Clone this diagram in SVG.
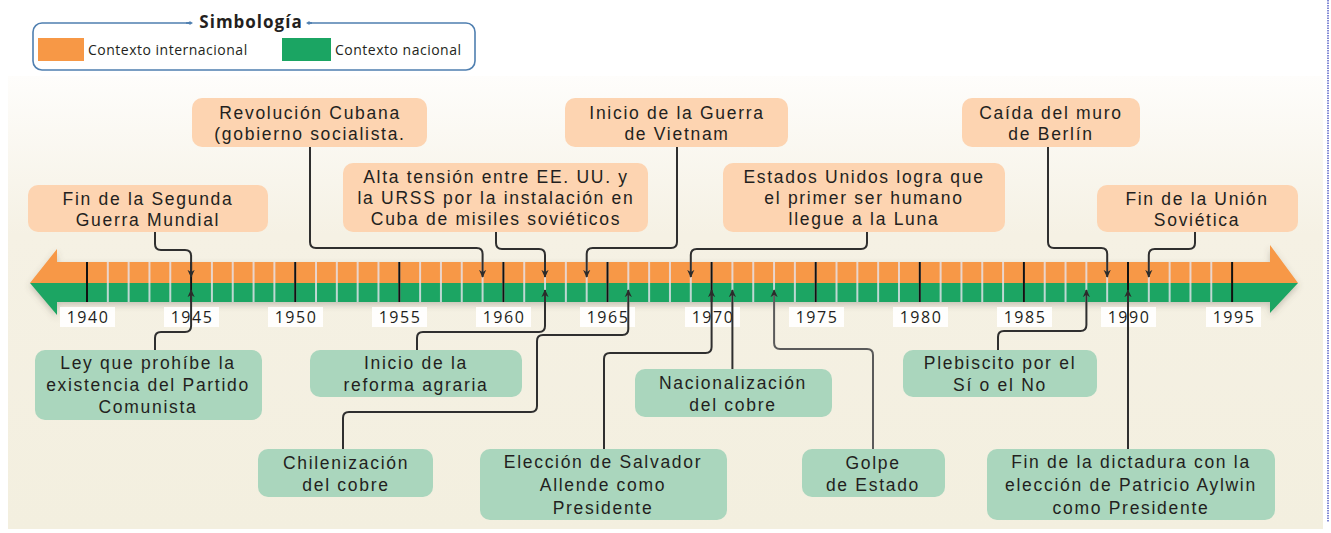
<svg xmlns="http://www.w3.org/2000/svg" width="1331" height="533" viewBox="0 0 1331 533">
<defs>
<linearGradient id="bg" x1="0" y1="0" x2="0" y2="1">
<stop offset="0" stop-color="#fefdfb"/>
<stop offset="0.35" stop-color="#f5f1e4"/>
<stop offset="1" stop-color="#f3efdf"/>
</linearGradient>
<filter id="sh" x="-5%" y="-40%" width="110%" height="180%">
<feDropShadow dx="0" dy="3" stdDeviation="3" flood-color="#5a5444" flood-opacity="0.3"/>
</filter>
<pattern id="sep" x="86" y="0" width="20.82" height="533" patternUnits="userSpaceOnUse">
<rect x="0.2" y="0" width="1.6" height="533" fill="#e6e4ec"/>
</pattern>
<marker id="ah" viewBox="0 0 10 10" refX="9" refY="5" markerWidth="8" markerHeight="8" markerUnits="userSpaceOnUse" orient="auto">
<path d="M0,0.5 L10,5 L0,9.5 L3,5 z" fill="#2b2b2b"/>
</marker>
<marker id="dm" viewBox="0 0 10 10" refX="5" refY="5" markerWidth="6" markerHeight="6" markerUnits="userSpaceOnUse">
<path d="M0,5 L5,2 L10,5 L5,8 z" fill="#4f7fb0"/>
</marker>
</defs>
<style>
.t{font-family:"Liberation Sans",Arial,sans-serif;font-size:17.5px;fill:#231f20;text-anchor:middle;letter-spacing:1.7px}
.ob{fill:#fdd4b1}
.gb{fill:#aad6bd}
.cn{fill:none;stroke:#2f2f2f;stroke-width:2;marker-end:url(#ah)}
.yb{fill:#ffffff;fill-opacity:0.92}
.yt{font-family:"Open Sans","Liberation Sans",sans-serif;font-size:16px;fill:#231f20;text-anchor:middle;letter-spacing:1.5px}
.mj{stroke:#111;stroke-width:2}
.lg{font-family:"Open Sans","Liberation Sans",sans-serif;font-size:14px;fill:#231f20;letter-spacing:0.5px}
</style>

<rect x="0" y="0" width="1331" height="533" fill="#ffffff"/>
<rect x="8" y="76" width="1315" height="453" fill="url(#bg)"/>
<line x1="1328" y1="0" x2="1328" y2="522" stroke="#5a64c8" stroke-width="1.5" stroke-dasharray="1.5,1"/>

<g id="legend">
<rect x="33" y="23" width="442" height="47" rx="9" fill="#ffffff" stroke="#4f7fb0" stroke-width="1.6"/>
<rect x="189" y="18" width="122" height="10" fill="#ffffff"/>
<line x1="186" y1="23" x2="190" y2="23" stroke="#4f7fb0" stroke-width="1.6" marker-end="url(#dm)"/>
<line x1="312" y1="23" x2="309" y2="23" stroke="#4f7fb0" stroke-width="1.6" marker-end="url(#dm)"/>
<text x="251" y="28" text-anchor="middle" font-family="'Open Sans','Liberation Sans',sans-serif" font-size="17" font-weight="bold" fill="#231f20" letter-spacing="1">Simbología</text>
<rect x="38" y="38" width="46" height="23" fill="#f79846"/>
<text class="lg" x="88" y="55">Contexto internacional</text>
<rect x="282" y="38" width="49" height="23" fill="#1ba563"/>
<text class="lg" x="335" y="55">Contexto nacional</text>
</g>

<g id="timeline">
<g filter="url(#sh)">
<path d="M30,283 L57,249 L57,262 L1270,262 L1270,245 L1298,283 Z" fill="#f79846"/>
<path d="M30,283 L1298,283 L1270,313 L1270,302 L57,302 L57,315 Z" fill="#1ba563"/>
</g>
<rect x="97" y="262" width="1125" height="40" fill="url(#sep)"/>
<g class="mj">
<line x1="87" y1="262" x2="87" y2="302"/>
<line x1="191.1" y1="262" x2="191.1" y2="302"/>
<line x1="295.2" y1="262" x2="295.2" y2="302"/>
<line x1="399.3" y1="262" x2="399.3" y2="302"/>
<line x1="503.4" y1="262" x2="503.4" y2="302"/>
<line x1="607.5" y1="262" x2="607.5" y2="302"/>
<line x1="711.6" y1="262" x2="711.6" y2="302"/>
<line x1="815.7" y1="262" x2="815.7" y2="302"/>
<line x1="919.8" y1="262" x2="919.8" y2="302"/>
<line x1="1023.9" y1="262" x2="1023.9" y2="302"/>
<line x1="1128" y1="262" x2="1128" y2="302"/>
<line x1="1232.1" y1="262" x2="1232.1" y2="302"/>
</g>
<g id="years">
<rect class="yb" x="60" y="307" width="55" height="20"/><text class="yt" x="88" y="323">1940</text>
<rect class="yb" x="164" y="307" width="55" height="20"/><text class="yt" x="192" y="323">1945</text>
<rect class="yb" x="268" y="307" width="55" height="20"/><text class="yt" x="296" y="323">1950</text>
<rect class="yb" x="372" y="307" width="55" height="20"/><text class="yt" x="400" y="323">1955</text>
<rect class="yb" x="476" y="307" width="55" height="20"/><text class="yt" x="504" y="323">1960</text>
<rect class="yb" x="580" y="307" width="55" height="20"/><text class="yt" x="608" y="323">1965</text>
<rect class="yb" x="685" y="307" width="55" height="20"/><text class="yt" x="713" y="323">1970</text>
<rect class="yb" x="789" y="307" width="55" height="20"/><text class="yt" x="817" y="323">1975</text>
<rect class="yb" x="893" y="307" width="55" height="20"/><text class="yt" x="921" y="323">1980</text>
<rect class="yb" x="997" y="307" width="55" height="20"/><text class="yt" x="1025" y="323">1985</text>
<rect class="yb" x="1101" y="307" width="55" height="20"/><text class="yt" x="1129" y="323">1990</text>
<rect class="yb" x="1206" y="307" width="55" height="20"/><text class="yt" x="1234" y="323">1995</text>
</g>
</g>

<g id="connectors">
<path class="cn" d="M155,232 V244 Q155,250 161,250 H185 Q191.1,250 191.1,256 V277"/>
<path class="cn" d="M310,147 V242 Q310,248 316,248 H476.6 Q482.6,248 482.6,254 V277"/>
<path class="cn" d="M496,232 V243 Q496,249 502,249 H539 Q545,249 545,255 V277"/>
<path class="cn" d="M677,147 V242 Q677,248 671,248 H592.7 Q586.7,248 586.7,254 V277"/>
<path class="cn" d="M867,232 V243 Q867,249 861,249 H696.8 Q690.8,249 690.8,255 V277"/>
<path class="cn" d="M1048,147 V242 Q1048,248 1054,248 H1101.2 Q1107.2,248 1107.2,254 V277"/>
<path class="cn" d="M1195,232 V243 Q1195,249 1189,249 H1154.8 Q1148.8,249 1148.8,255 V277"/>
<path class="cn" d="M155,350 V338 Q155,332 161,332 H185 Q191.1,332 191.1,326 V290"/>
<path class="cn" d="M417,350 V338 Q417,332 423,332 H539 Q545,332 545,326 V290"/>
<path class="cn" d="M343,449 V418 Q343,412 349,412 H531 Q537,412 537,406 V341 Q537,335 543,335 H622.3 Q628.3,335 628.3,329 V290"/>
<path class="cn" d="M604,449 V359 Q604,353 610,353 H705.6 Q711.6,353 711.6,347 V290"/>
<path class="cn" d="M732.4,369 V290"/>
<path class="cn" d="M873,449 V355 Q873,349 867,349 H780.1 Q774.1,349 774.1,343 V290" style="stroke:#5a5a5a"/>
<path class="cn" d="M998,350 V337 Q998,331 1004,331 H1080.4 Q1086.4,331 1086.4,325 V290"/>
<path class="cn" d="M1128,449 V290"/>
</g>

<g id="n1945int"><rect class="ob" x="28" y="185" width="240" height="47" rx="10"/>
<text class="t" x="148" y="205">Fin de la Segunda</text><text class="t" x="148" y="226">Guerra Mundial</text></g>
<g id="n1959"><rect class="ob" x="192" y="98" width="235" height="49" rx="10"/>
<text class="t" x="310" y="119">Revolución Cubana</text><text class="t" x="310" y="140">(gobierno socialista.</text></g>
<g id="n1962int"><rect class="ob" x="343" y="163" width="305" height="69" rx="10"/>
<text class="t" x="496" y="183">Alta tensión entre EE. UU. y</text><text class="t" x="496" y="204">la URSS por la instalación en</text><text class="t" x="496" y="225">Cuba de misiles soviéticos</text></g>
<g id="n1964"><rect class="ob" x="565" y="98" width="223" height="49" rx="10"/>
<text class="t" x="677" y="119">Inicio de la Guerra</text><text class="t" x="677" y="140">de Vietnam</text></g>
<g id="n1969"><rect class="ob" x="723" y="163" width="282" height="69" rx="10"/>
<text class="t" x="864" y="183">Estados Unidos logra que</text><text class="t" x="864" y="204">el primer ser humano</text><text class="t" x="864" y="225">llegue a la Luna</text></g>
<g id="n1989"><rect class="ob" x="962" y="98" width="178" height="49" rx="10"/>
<text class="t" x="1051" y="119">Caída del muro</text><text class="t" x="1051" y="140">de Berlín</text></g>
<g id="n1991"><rect class="ob" x="1097" y="185" width="201" height="47" rx="10"/>
<text class="t" x="1197" y="205">Fin de la Unión</text><text class="t" x="1197" y="226">Soviética</text></g>

<g id="n1945nac"><rect class="gb" x="35" y="350" width="227" height="70" rx="10"/>
<text class="t" x="148" y="369">Ley que prohíbe la</text><text class="t" x="148" y="391">existencia del Partido</text><text class="t" x="148" y="413">Comunista</text></g>
<g id="n1962nac"><rect class="gb" x="310" y="350" width="212" height="47" rx="10"/>
<text class="t" x="416" y="369">Inicio de la</text><text class="t" x="416" y="391">reforma agraria</text></g>
<g id="n1966"><rect class="gb" x="258" y="449" width="175" height="48" rx="10"/>
<text class="t" x="346" y="469">Chilenización</text><text class="t" x="346" y="491">del cobre</text></g>
<g id="n1971"><rect class="gb" x="635" y="369" width="197" height="48" rx="10"/>
<text class="t" x="733" y="389">Nacionalización</text><text class="t" x="733" y="411">del cobre</text></g>
<g id="n1970"><rect class="gb" x="480" y="449" width="247" height="71" rx="10"/>
<text class="t" x="603" y="468">Elección de Salvador</text><text class="t" x="603" y="491">Allende como</text><text class="t" x="603" y="514">Presidente</text></g>
<g id="n1973"><rect class="gb" x="802" y="449" width="143" height="48" rx="10"/>
<text class="t" x="873" y="469">Golpe</text><text class="t" x="873" y="491">de Estado</text></g>
<g id="n1988"><rect class="gb" x="903" y="350" width="194" height="47" rx="10"/>
<text class="t" x="1000" y="369">Plebiscito por el</text><text class="t" x="1000" y="391">Sí o el No</text></g>
<g id="n1990"><rect class="gb" x="987" y="449" width="288" height="71" rx="10"/>
<text class="t" x="1131" y="468">Fin de la dictadura con la</text><text class="t" x="1131" y="491">elección de Patricio Aylwin</text><text class="t" x="1131" y="514">como Presidente</text></g>
</svg>
